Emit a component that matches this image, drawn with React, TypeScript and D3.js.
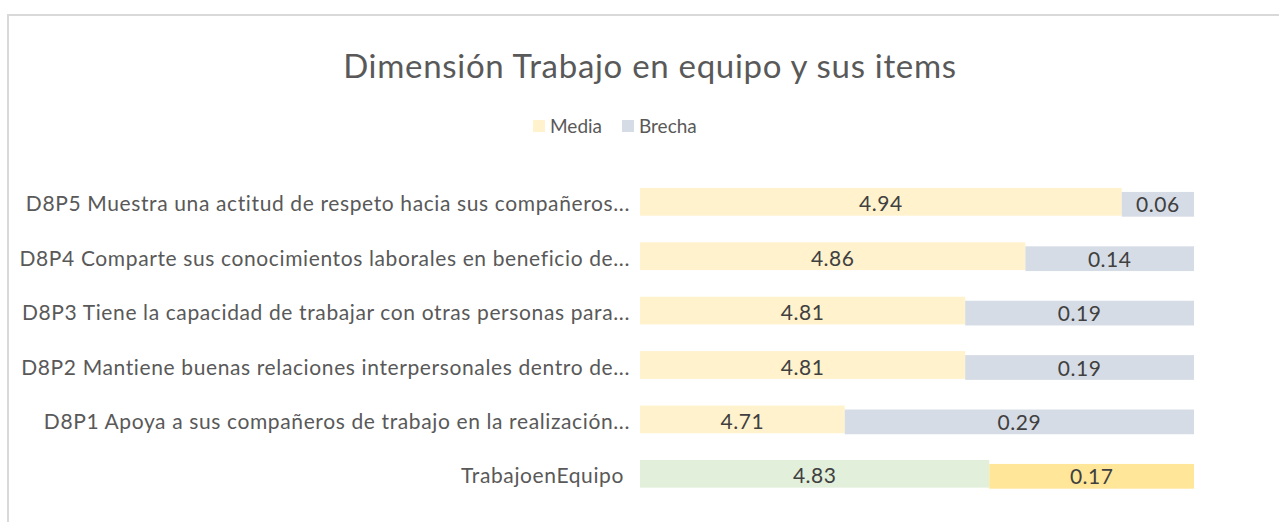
import { useEffect, useRef } from 'react'
import * as d3 from 'd3'

const title = 'Dimensión Trabajo en equipo y sus items'
const seriesNames = ['Media', 'Brecha']

const categories = [
  'D8P5 Muestra una actitud de respeto hacia sus compañeros...',
  'D8P4 Comparte sus conocimientos laborales en beneficio de...',
  'D8P3 Tiene la capacidad de trabajar con otras personas para...',
  'D8P2 Mantiene buenas relaciones interpersonales dentro de...',
  'D8P1 Apoya a sus compañeros de trabajo en la realización...',
  'TrabajoenEquipo ',
]
const media = [4.94, 4.86, 4.81, 4.81, 4.71, 4.83]
const brecha = [0.06, 0.14, 0.19, 0.19, 0.29, 0.17]

const width = 1279
const height = 522
const font = 'Lato, "Open Sans", sans-serif'

const colors = {
  media: '#fff2cc',
  brecha: '#d6dce5',
  totalMedia: '#e2efda',
  totalBrecha: '#ffe699',
}

const App = () => {
  const svgRef = useRef<SVGSVGElement | null>(null)

  useEffect(() => {
    if (!svgRef.current) return
    const svg = d3.select(svgRef.current)
    svg.selectAll('*').remove()

    // chart frame
    svg.append('rect')
      .attr('x', 8)
      .attr('y', 15)
      .attr('width', width + 20)
      .attr('height', height + 20)
      .attr('fill', '#fff')
      .attr('stroke', '#d9d9d9')
      .attr('stroke-width', 2)

    svg.append('text')
      .attr('x', 650)
      .attr('y', 78)
      .attr('text-anchor', 'middle')
      .attr('font-family', font)
      .attr('font-size', 33)
      .attr('letter-spacing', 0.7)
      .attr('fill', '#595959')
      .text(title)

    // legend
    const legend = svg.append('g').attr('font-family', font).attr('font-size', 19).attr('fill', '#595959')
    const legendX = [533, 622]
    seriesNames.forEach((name, i) => {
      legend.append('rect')
        .attr('x', legendX[i])
        .attr('y', 120)
        .attr('width', 12)
        .attr('height', 12)
        .attr('fill', i === 0 ? colors.media : colors.brecha)
      legend.append('text')
        .attr('x', legendX[i] + 17)
        .attr('y', 133)
        .text(name)
    })

    const x = d3.scaleLinear().domain([4.54, 5]).range([640, 1194])
    const y = d3.scaleBand<string>()
      .domain(categories)
      .range([174.6, 501])
      .paddingInner(0.49)
      .paddingOuter(0.245)

    const rows = categories.map((c, i) => ({ cat: c, media: media[i], brecha: brecha[i], total: i === categories.length - 1 }))

    const g = svg.append('g')

    // Media bars
    g.selectAll('rect.media')
      .data(rows)
      .enter()
      .append('rect')
      .attr('class', 'media')
      .attr('x', x(4.54))
      .attr('y', d => y(d.cat)!)
      .attr('width', d => x(d.media) - x(4.54))
      .attr('height', y.bandwidth())
      .attr('fill', d => d.total ? colors.totalMedia : colors.media)

    // Brecha bars (drawn slightly lower, as in the original)
    g.selectAll('rect.brecha')
      .data(rows)
      .enter()
      .append('rect')
      .attr('class', 'brecha')
      .attr('x', d => x(d.media))
      .attr('y', d => y(d.cat)! + 4)
      .attr('width', d => x(d.media + d.brecha) - x(d.media))
      .attr('height', y.bandwidth() - 3)
      .attr('fill', d => d.total ? colors.totalBrecha : colors.brecha)

    const labels = g.append('g')
      .attr('font-family', font)
      .attr('font-size', 21)
      .attr('letter-spacing', 0.5)
      .attr('fill', '#404040')
      .attr('text-anchor', 'middle')
      .attr('dominant-baseline', 'central')

    labels.selectAll('text.m')
      .data(rows)
      .enter()
      .append('text')
      .attr('x', d => (x(4.54) + x(d.media)) / 2)
      .attr('y', d => y(d.cat)! + y.bandwidth() / 2 + 1)
      .text(d => d.media.toFixed(2))

    labels.selectAll('text.b')
      .data(rows)
      .enter()
      .append('text')
      .attr('x', d => (x(d.media) + x(d.media + d.brecha)) / 2)
      .attr('y', d => y(d.cat)! + y.bandwidth() / 2 + 2)
      .text(d => d.brecha.toFixed(2))

    // category axis labels
    g.append('g')
      .attr('font-family', font)
      .attr('font-size', 21)
      .attr('letter-spacing', 0.62)
      .attr('fill', '#595959')
      .attr('text-anchor', 'end')
      .attr('dominant-baseline', 'central')
      .selectAll('text')
      .data(categories)
      .enter()
      .append('text')
      .style('white-space', 'pre')
      .attr('x', 630)
      .attr('y', d => y(d)! + y.bandwidth() / 2 + 1)
      .text(d => d)
  }, [])

  return (
    <svg
      ref={svgRef}
      width={width}
      height={height}
      style={{ position: 'absolute', left: 0, top: 0, display: 'block', background: '#fff' }}
    />
  )
}

export default App
